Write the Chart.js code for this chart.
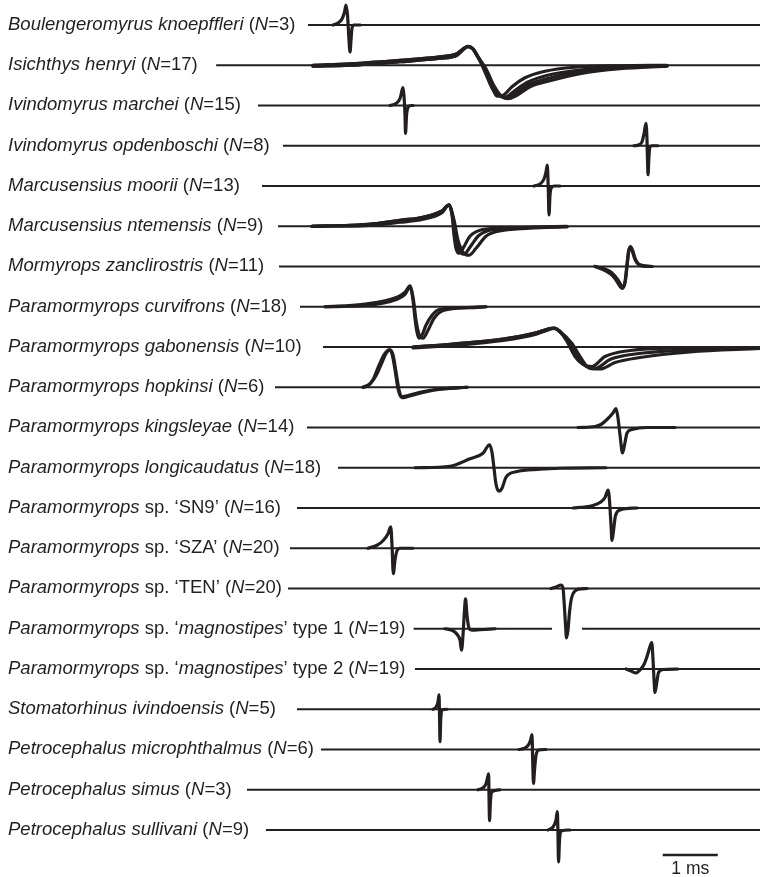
<!DOCTYPE html>
<html>
<head>
<meta charset="utf-8">
<script src="https://cdn.jsdelivr.net/npm/chart.js@4/dist/chart.umd.min.js"></script>
<style>
  html, body { margin: 0; padding: 0; background: #ffffff; }
  canvas { display: block; }
</style>
</head>
<body>
<canvas id="eod" width="760" height="877"></canvas>
<script>
// Species names (*...* = italic) and number of specimens averaged per row
const names = [
  "*Boulengeromyrus knoepffleri*",
  "*Isichthys henryi*",
  "*Ivindomyrus marchei*",
  "*Ivindomyrus opdenboschi*",
  "*Marcusensius moorii*",
  "*Marcusensius ntemensis*",
  "*Mormyrops zanclirostris*",
  "*Paramormyrops curvifrons*",
  "*Paramormyrops gabonensis*",
  "*Paramormyrops hopkinsi*",
  "*Paramormyrops kingsleyae*",
  "*Paramormyrops longicaudatus*",
  "*Paramormyrops* sp. \u2018SN9\u2019",
  "*Paramormyrops* sp. \u2018SZA\u2019",
  "*Paramormyrops* sp. \u2018TEN\u2019",
  "*Paramormyrops* sp. \u2018*magnostipes*\u2019 type 1",
  "*Paramormyrops* sp. \u2018*magnostipes*\u2019 type 2",
  "*Stomatorhinus ivindoensis*",
  "*Petrocephalus microphthalmus*",
  "*Petrocephalus simus*",
  "*Petrocephalus sullivani*"
];
const sampleSizes = [3, 17, 15, 8, 13, 9, 11, 18, 10, 6, 14, 18, 16, 20, 20, 19, 19, 5, 6, 3, 9];

// Time (ms) where each row's trace line begins, and end of the time axis
const lineStart = [5.60, 3.93, 4.69, 5.145, 4.764, 5.055, 5.073, 5.455, 5.873, 5.0,
                   5.582, 6.145, 5.4, 5.273, 5.236, 7.52, 7.545, 5.4, 5.836, 4.491, 4.836];
const timeEnd = 13.818;
// Row 16 baseline is interrupted where the 'TEN' discharge crosses it
const gapRow = 15;
const gapMs = [10.036, 10.582];

// Scale bar: 1 ms
const scaleBarStart = 12.05;
const scaleBarMs = 1;

// EOD waveforms: traces of [time ms, normalised amplitude]
const eodBk = [[[6.055,0],[6.145,0.04],[6.218,0.12],[6.264,0.26],[6.291,0.40],[6.318,0.20],[6.345,-0.30],[6.364,-0.54],[6.382,-0.30],[6.400,-0.06],[6.436,0],[6.55,0]]];

const ihPre = [[5.691,0],[6.364,0.03],[7.273,0.10],[8.0,0.17],[8.309,0.23],[8.4,0.31],[8.509,0.38],[8.6,0.33],[8.691,0.17]];
const ihPreLow = [[5.691,-0.02],[6.364,0],[7.273,0.07],[8.0,0.14],[8.309,0.20],[8.4,0.29],[8.509,0.37],[8.6,0.32],[8.691,0.16]];
const eodIh = [
  ihPre.concat([[8.8,-0.09],[8.909,-0.37],[8.982,-0.53],[9.036,-0.62],[9.164,-0.59],[9.309,-0.43],[9.545,-0.25],[9.909,-0.12],[10.455,-0.04],[11.273,-0.01],[12.127,0]]),
  ihPreLow.concat([[8.818,-0.08],[8.945,-0.40],[9.055,-0.60],[9.2,-0.63],[9.345,-0.52],[9.591,-0.34],[9.955,-0.20],[10.5,-0.10],[11.273,-0.04],[12.127,-0.01]]),
  ihPre.concat([[8.836,-0.07],[8.982,-0.41],[9.127,-0.63],[9.236,-0.67],[9.382,-0.61],[9.636,-0.43],[10.0,-0.31],[10.545,-0.17],[11.273,-0.07],[12.127,-0.02]]),
  ihPreLow.concat([[8.827,-0.08],[8.964,-0.40],[9.091,-0.62],[9.218,-0.65],[9.364,-0.57],[9.609,-0.39],[9.973,-0.26],[10.52,-0.13],[11.273,-0.05],[12.127,-0.01]])
];

const eodIm = [[[7.091,0],[7.2,0.04],[7.273,0.14],[7.309,0.30],[7.327,0.36],[7.345,0.20],[7.364,-0.20],[7.373,-0.56],[7.391,-0.20],[7.418,-0.04],[7.473,0],[7.51,0]]];
const eodIo = [[[11.527,0],[11.618,0.02],[11.673,0.08],[11.709,0.24],[11.745,0.45],[11.764,0.10],[11.773,-0.30],[11.782,-0.58],[11.8,-0.20],[11.818,-0.02],[11.855,0],[11.96,0]]];
const eodMm = [[[9.709,0],[9.818,0.04],[9.891,0.14],[9.927,0.28],[9.951,0.42],[9.969,-0.08],[9.982,-0.58],[10.0,-0.18],[10.036,-0.02],[10.073,0],[10.18,0]]];

const mnPre = [[5.673,0],[6.364,0.02],[6.782,0.05],[7.273,0.12],[7.691,0.18],[8.036,0.31],[8.164,0.43]];
const mnPreLow = [[5.673,0],[6.364,0],[6.782,0.02],[7.273,0.08],[7.691,0.14],[8.036,0.27],[8.164,0.42]];
const eodMn = [
  mnPre.concat([[8.218,0.22],[8.255,-0.18],[8.291,-0.44],[8.345,-0.54],[8.418,-0.44],[8.545,-0.20],[8.727,-0.08],[9.091,-0.04],[9.636,-0.02],[10.309,0]]),
  mnPre.concat([[8.236,0.16],[8.291,-0.24],[8.345,-0.48],[8.436,-0.56],[8.545,-0.42],[8.691,-0.20],[8.909,-0.08],[9.455,-0.03],[10.309,-0.01]]),
  mnPreLow.concat([[8.255,0.12],[8.327,-0.28],[8.418,-0.52],[8.527,-0.58],[8.655,-0.44],[8.836,-0.20],[9.055,-0.10],[9.636,-0.04],[10.309,-0.01]])
];

const eodMz = [
  [[10.818,0],[11.0,-0.05],[11.127,-0.13],[11.236,-0.27],[11.291,-0.37],[11.336,-0.41],[11.373,-0.27],[11.409,0.09],[11.436,0.33],[11.464,0.40],[11.5,0.33],[11.545,0.17],[11.6,0.06],[11.673,0.01],[11.855,0]],
  [[10.818,0],[11.0,-0.08],[11.127,-0.17],[11.218,-0.30],[11.273,-0.40],[11.318,-0.44],[11.364,-0.30],[11.4,0.05],[11.427,0.30],[11.455,0.38],[11.491,0.32],[11.545,0.14],[11.618,0.04],[11.855,0]]
];

const eodPc = [
  [[5.909,0],[6.6,0.05],[7.218,0.19],[7.364,0.29],[7.455,0.42],[7.509,0.13],[7.545,-0.23],[7.582,-0.51],[7.618,-0.63],[7.673,-0.57],[7.745,-0.37],[7.855,-0.17],[8.0,-0.05],[8.364,-0.02],[8.836,0]],
  [[5.909,0],[6.6,0.02],[7.218,0.15],[7.364,0.25],[7.455,0.39],[7.518,0.13],[7.564,-0.27],[7.618,-0.55],[7.691,-0.63],[7.782,-0.47],[7.891,-0.23],[8.073,-0.07],[8.545,-0.02],[8.836,0]]
];

const pgPre = [[7.509,0],[8.236,0.06],[9.145,0.16],[9.764,0.29],[9.964,0.36],[10.073,0.38],[10.182,0.31]];
const pgPreLow = [[7.509,-0.02],[8.236,0.03],[9.145,0.13],[9.764,0.26],[9.964,0.34],[10.073,0.37],[10.182,0.30]];
const eodPg = [
  pgPre.concat([[10.309,0.11],[10.455,-0.19],[10.6,-0.35],[10.764,-0.39],[11.0,-0.19],[11.455,-0.07],[12.364,-0.02],[13.818,-0.01]]),
  pgPreLow.concat([[10.355,0.09],[10.5,-0.19],[10.664,-0.39],[10.836,-0.42],[11.09,-0.25],[11.545,-0.14],[12.45,-0.06],[13.818,-0.02]]),
  pgPre.concat([[10.4,0.07],[10.545,-0.19],[10.727,-0.43],[10.909,-0.44],[11.182,-0.31],[11.636,-0.21],[12.545,-0.10],[13.818,-0.03]])
];

const eodPh = [
  [[6.6,0],[6.727,0.07],[6.836,0.23],[6.927,0.45],[7.018,0.67],[7.091,0.75],[7.145,0.65],[7.2,0.31],[7.255,-0.05],[7.309,-0.21],[7.4,-0.19],[7.636,-0.12],[7.945,-0.05],[8.491,0]],
  [[6.6,0],[6.691,0.03],[6.782,0.15],[6.873,0.39],[6.982,0.65],[7.073,0.75],[7.127,0.67],[7.182,0.35],[7.236,-0.03],[7.291,-0.19],[7.4,-0.17],[7.636,-0.10],[7.945,-0.04],[8.491,0]]
];

const eodPk = [[[10.509,0],[10.818,0.02],[10.927,0.06],[11.036,0.16],[11.145,0.29],[11.2,0.38],[11.236,0.19],[11.273,-0.15],[11.318,-0.51],[11.355,-0.35],[11.4,-0.11],[11.491,-0.04],[11.764,0],[12.273,0]]];
const eodPl = [[[7.545,0],[8.182,0.03],[8.545,0.18],[8.782,0.29],[8.9,0.46],[8.945,0.31],[8.982,-0.01],[9.018,-0.33],[9.073,-0.47],[9.127,-0.41],[9.2,-0.19],[9.382,-0.08],[9.818,-0.03],[10.182,-0.01],[11.018,0]]];
const eodSn9 = [[[10.418,0],[10.636,0.02],[10.782,0.05],[10.909,0.11],[11.0,0.21],[11.055,0.36],[11.082,0.15],[11.109,-0.35],[11.127,-0.65],[11.155,-0.45],[11.191,-0.15],[11.273,-0.04],[11.582,0]]];
const eodSza = [[[6.691,0],[6.855,0.06],[6.964,0.15],[7.055,0.29],[7.104,0.43],[7.127,0.07],[7.151,-0.51],[7.182,-0.23],[7.218,-0.05],[7.273,0],[7.509,0]]];
const eodTen = [[[10.018,0],[10.109,0.03],[10.2,0.07],[10.236,0.01],[10.26,-0.33],[10.282,-0.73],[10.3,-0.99],[10.327,-0.83],[10.355,-0.47],[10.391,-0.19],[10.455,-0.05],[10.545,-0.01],[10.673,0]]];
const eodMag1 = [[[8.091,0],[8.218,-0.03],[8.309,-0.11],[8.364,-0.23],[8.391,-0.43],[8.418,-0.13],[8.445,0.37],[8.464,0.60],[8.491,0.27],[8.527,0.01],[8.582,-0.03],[8.727,-0.02],[9.0,0]]];
const eodMag2 = [[[11.382,0],[11.473,-0.04],[11.564,-0.08],[11.636,-0.02],[11.709,0.09],[11.764,0.25],[11.818,0.45],[11.849,0.53],[11.873,0.19],[11.891,-0.21],[11.909,-0.47],[11.936,-0.31],[11.973,-0.07],[12.055,-0.01],[12.327,0]]];
const eodSi = [[[7.873,0],[7.927,0.04],[7.964,0.15],[7.982,0.29],[7.991,-0.11],[8.0,-0.65],[8.013,-0.21],[8.036,-0.01],[8.127,0]]];
const eodPmi = [[[9.436,0],[9.527,0.02],[9.6,0.08],[9.645,0.18],[9.673,0.30],[9.685,-0.22],[9.7,-0.68],[9.718,-0.42],[9.745,-0.12],[9.8,-0.01],[9.927,0]]];
const eodPsi = [[[8.691,0],[8.782,0.04],[8.836,0.12],[8.873,0.28],[8.884,0.32],[8.891,-0.12],[8.9,-0.62],[8.918,-0.22],[8.945,-0.04],[9.091,0]]];
const eodPsu = [[[9.964,0],[10.055,0.06],[10.109,0.20],[10.133,0.37],[10.145,-0.10],[10.155,-0.64],[10.173,-0.20],[10.2,-0.02],[10.364,0]]];

const waveforms = [eodBk, eodIh, eodIm, eodIo, eodMm, eodMn, eodMz, eodPc, eodPg, eodPh,
                   eodPk, eodPl, eodSn9, eodSza, eodTen, eodMag1, eodMag2, eodSi, eodPmi, eodPsi, eodPsu];

// ---- drawing ----
const ink = '#231f20';
const rowStep = 0.805;          // vertical offset between rows (amplitude units)
const rowValue = i => -i * rowStep;
const labelFont = '"Liberation Sans", Arial, sans-serif';
const labelSize = 18.5;

const datasets = [];
names.forEach((_, i) => {
  const base = rowValue(i);
  const line = [{x: lineStart[i], y: base}];
  if (i === gapRow) {
    line.push({x: gapMs[0], y: base}, {x: (gapMs[0] + gapMs[1]) / 2, y: null}, {x: gapMs[1], y: base});
  }
  line.push({x: timeEnd, y: base});
  datasets.push({data: line, borderWidth: 2, borderColor: ink, pointRadius: 0, showLine: true, spanGaps: false});
  waveforms[i].forEach(trace => {
    datasets.push({
      data: trace.map(([t, a]) => ({x: t, y: base + a})),
      borderWidth: 3.2, borderColor: ink, pointRadius: 0, showLine: true,
      cubicInterpolationMode: 'monotone', borderCapStyle: 'round', borderJoinStyle: 'round'
    });
  });
});
const scaleBarY = -16.6;
datasets.push({
  data: [{x: scaleBarStart, y: scaleBarY}, {x: scaleBarStart + scaleBarMs, y: scaleBarY}],
  borderWidth: 2.6, borderColor: ink, pointRadius: 0, showLine: true
});

const textPlugin = {
  id: 'rowText',
  afterDatasetsDraw(chart) {
    const {ctx, scales: {x, y}} = chart;
    ctx.save();
    ctx.fillStyle = ink;
    ctx.textBaseline = 'alphabetic';
    names.forEach((name, i) => {
      const parts = (name + ' (*N*=' + sampleSizes[i] + ')').split('*');
      let px = 8;
      const py = y.getPixelForValue(rowValue(i)) + 4.8;
      parts.forEach((p, k) => {
        if (!p) return;
        ctx.font = (k % 2 ? 'italic ' : '') + labelSize + 'px ' + labelFont;
        ctx.fillText(p, px, py);
        px += ctx.measureText(p).width;
      });
    });
    ctx.font = '17.5px ' + labelFont;
    ctx.textAlign = 'center';
    const cx = x.getPixelForValue(scaleBarStart + scaleBarMs / 2);
    ctx.fillText(scaleBarMs + ' ms', cx, y.getPixelForValue(scaleBarY) + 19);
    ctx.restore();
  }
};

new Chart(document.getElementById('eod'), {
  type: 'scatter',
  data: {datasets},
  options: {
    responsive: false,
    animation: false,
    devicePixelRatio: 1,
    layout: {padding: 0},
    elements: {line: {tension: 0}},
    plugins: {legend: {display: false}, tooltip: {enabled: false}},
    scales: {
      x: {type: 'linear', display: false, min: 0, max: timeEnd},
      y: {type: 'linear', display: false, min: -17.04, max: 0.5}
    }
  },
  plugins: [textPlugin]
});
</script>
</body>
</html>
